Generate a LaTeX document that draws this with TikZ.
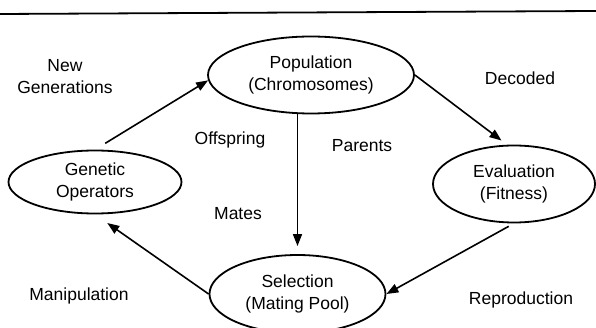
\documentclass[tikz,border=0pt]{standalone}
\usepackage{fontspec}
\setmainfont{Liberation Sans}
\usetikzlibrary{shapes.geometric,arrows.meta}
\begin{document}
\begin{tikzpicture}[x=1pt,y=-1pt,
  every node/.style={font=\fontsize{17.5}{22}\selectfont, align=center},
  oval/.style={ellipse, draw, line width=1.8pt, inner sep=0pt},
  lab/.style={},
  conn/.style={line width=1.6pt, -{Triangle[length=12pt,width=9pt]}}]
\useasboundingbox (0,0) rectangle (596,328);
\draw[line width=1.8pt] (0,14) -- (596,11);
\node[oval, minimum width=206pt, minimum height=77pt] (pop) at (311,75) {Population\\(Chromosomes)};
\node[oval, minimum width=173pt, minimum height=63pt] (gen) at (95,182) {Genetic\\Operators};
\node[oval, minimum width=162pt, minimum height=77pt] (eval) at (514,184) {Evaluation\\(Fitness)};
\node[oval, minimum width=176pt, minimum height=78pt] (sel) at (297.5,294) {Selection\\(Mating Pool)};
\node[lab] (ng) at (65,77) {New\\Generations};
\node[lab] (dec) at (520,78) {Decoded};
\node[lab] (off) at (230,140) {Offspring};
\node[lab] (par) at (362,146) {Parents};
\node[lab] (mat) at (238,214) {Mates};
\node[lab] (man) at (79,296) {Manipulation};
\node[lab] (rep) at (521,300) {Reproduction};
\draw[conn, shorten <=12pt] (gen.north) -- (pop.183);
\draw[conn, shorten >=7pt] (pop.east) -- (eval.100);
\draw[conn, shorten >=8pt] (sel.north |- pop.south) -- (sel.north);
\draw[conn, shorten <=6pt] (eval.south) -- (sel.east);
\draw[conn, shorten >=15pt] (sel.west) -- (gen.south);
\end{tikzpicture}
\end{document}
